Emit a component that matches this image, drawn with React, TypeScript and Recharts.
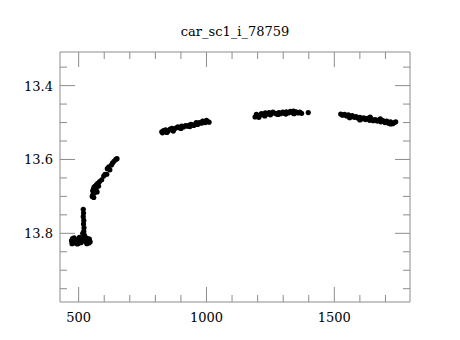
import { ScatterChart, Scatter, XAxis, YAxis, ReferenceLine } from 'recharts'

// light curve: [time, magnitude]
const spikeGroup: [number, number][] = [
  [472, 13.82], [478, 13.824], [485, 13.826], [492, 13.82], [498, 13.818], [505, 13.823],
  [512, 13.815], [520, 13.81], [528, 13.812], [535, 13.82], [540, 13.826], [545, 13.823],
  [476, 13.814], [488, 13.817], [500, 13.827], [510, 13.825], [532, 13.828], [538, 13.815],
  [474, 13.828], [482, 13.812], [495, 13.829], [503, 13.811], [527, 13.822], [542, 13.816],
  [518, 13.735], [519, 13.745], [518, 13.755], [520, 13.765], [519, 13.775], [521, 13.785],
  [520, 13.795], [522, 13.805], [516, 13.8], [524, 13.808],
]

const riseGroup: [number, number][] = [
  [553, 13.7], [556, 13.695], [555, 13.685], [558, 13.68], [560, 13.675], [562, 13.69],
  [565, 13.672], [568, 13.68], [570, 13.668], [575, 13.665], [578, 13.672], [572, 13.688],
  [559, 13.703], [582, 13.66], [590, 13.655], [598, 13.645], [603, 13.64], [610, 13.64],
  [612, 13.625], [618, 13.62], [622, 13.628], [628, 13.615], [632, 13.61], [638, 13.605],
  [645, 13.6], [650, 13.598],
]

const secondGroup: [number, number][] = [
  [825, 13.525], [832, 13.522], [840, 13.52], [850, 13.523], [858, 13.518], [865, 13.516],
  [872, 13.519], [880, 13.515], [888, 13.512], [895, 13.514], [903, 13.51], [910, 13.512],
  [918, 13.508], [925, 13.51], [933, 13.507], [940, 13.505], [950, 13.508], [958, 13.503],
  [965, 13.505], [972, 13.5], [980, 13.502], [988, 13.498], [995, 13.5], [1003, 13.497],
  [1010, 13.499], [828, 13.528], [845, 13.527], [870, 13.523], [900, 13.516], [935, 13.511],
  [960, 13.5], [985, 13.496], [1000, 13.494],
]

const thirdGroup: [number, number][] = [
  [1190, 13.485], [1195, 13.478], [1200, 13.482], [1208, 13.48], [1215, 13.476], [1222, 13.479],
  [1230, 13.474], [1238, 13.477], [1245, 13.473], [1252, 13.476], [1260, 13.472], [1268, 13.475],
  [1275, 13.477], [1283, 13.473], [1290, 13.476], [1298, 13.472], [1305, 13.475], [1312, 13.471],
  [1320, 13.474], [1328, 13.47], [1335, 13.473], [1342, 13.476], [1350, 13.471], [1358, 13.474],
  [1365, 13.472], [1372, 13.475], [1398, 13.473], [1205, 13.486], [1228, 13.482], [1250, 13.479],
  [1280, 13.478], [1310, 13.477], [1340, 13.469],
]

const fourthGroup: [number, number][] = [
  [1525, 13.477], [1532, 13.48], [1540, 13.478], [1548, 13.482], [1555, 13.479], [1562, 13.483],
  [1570, 13.481], [1578, 13.486], [1585, 13.484], [1592, 13.488], [1600, 13.486], [1608, 13.49],
  [1615, 13.487], [1622, 13.492], [1630, 13.489], [1638, 13.494], [1645, 13.49], [1652, 13.495],
  [1660, 13.492], [1668, 13.496], [1675, 13.493], [1682, 13.498], [1690, 13.495], [1698, 13.5],
  [1705, 13.496], [1712, 13.502], [1720, 13.498], [1728, 13.503], [1735, 13.5], [1740, 13.498],
  [1560, 13.487], [1600, 13.493], [1640, 13.485], [1680, 13.49], [1720, 13.504],
]

const xDomain = [427, 1796]
const yDomain = [13.309, 13.986]
const xMajor = [500, 1000, 1500]
const xTicks = [500, 600, 700, 800, 900, 1000, 1100, 1200, 1300, 1400, 1500, 1600, 1700]
const yMajor = [13.4, 13.6, 13.8]
const yTicks = [13.35, 13.4, 13.45, 13.5, 13.55, 13.6, 13.65, 13.7, 13.75, 13.8, 13.85, 13.9, 13.95]

const points = [...spikeGroup, ...riseGroup, ...secondGroup, ...thirdGroup, ...fourthGroup].map(
  ([t, mag]) => ({ t, mag })
)

const W = 460
const H = 340
const margin = { top: 52, right: 50, bottom: 38, left: 60 }
const box = { left: margin.left, right: W - margin.right, top: margin.top, bottom: H - margin.bottom }

const font = 'DejaVu Serif'
const frame = '#8c8c8c'
const MAJOR = 15
const MINOR = 7

const isMajor = (list: number[], v: number) => list.some((m) => Math.abs(m - v) < 1e-6)

// ticks point inwards on all four sides, like the original plot
const BottomTick = (props: any) => {
  const x = props.payload.coordinate
  const v = props.payload.value
  const major = isMajor(xMajor, v)
  const len = major ? MAJOR : MINOR
  return (
    <g>
      <line x1={x} x2={x} y1={box.bottom} y2={box.bottom - len} stroke={frame} />
      <line x1={x} x2={x} y1={box.top} y2={box.top + len} stroke={frame} />
      {major && (
        <text x={x} y={box.bottom + 20} textAnchor="middle" fontFamily={font} fontSize={13} fill="#000">
          {v}
        </text>
      )}
    </g>
  )
}

const LeftTick = (props: any) => {
  const y = props.payload.coordinate
  const v = props.payload.value
  const major = isMajor(yMajor, v)
  const len = major ? MAJOR : MINOR
  return (
    <g>
      <line x1={box.left} x2={box.left + len} y1={y} y2={y} stroke={frame} />
      <line x1={box.right} x2={box.right - len} y1={y} y2={y} stroke={frame} />
      {major && (
        <text x={box.left - 7} y={y + 5} textAnchor="end" fontFamily={font} fontSize={13} fill="#000">
          {Number(v).toFixed(1)}
        </text>
      )}
    </g>
  )
}

const Dot = (props: any) => <circle cx={props.cx} cy={props.cy} r={2.6} fill="#000" />

export default function App() {
  return (
    <div style={{ position: 'absolute', left: 0, top: 0, width: W, height: H, background: '#fff' }}>
      <div
        style={{
          position: 'absolute',
          top: 24,
          left: box.left,
          width: box.right - box.left,
          textAlign: 'center',
          fontFamily: font,
          fontSize: 13,
          color: '#000',
        }}
      >
        car_sc1_i_78759
      </div>
      <ScatterChart width={W} height={H} margin={{ top: margin.top, right: margin.right, bottom: 0, left: 0 }}>
        <XAxis type="number" dataKey="t" domain={xDomain} allowDataOverflow ticks={xTicks} interval={0}
          height={margin.bottom} tickSize={0} tickMargin={0} tickLine={false} stroke={frame} tick={BottomTick} />
        <YAxis type="number" dataKey="mag" domain={yDomain} reversed allowDataOverflow ticks={yTicks} interval={0}
          width={margin.left} tickSize={0} tickMargin={0} tickLine={false} stroke={frame} tick={LeftTick} />
        <ReferenceLine x={xDomain[1]} stroke={frame} />
        <ReferenceLine y={yDomain[0]} stroke={frame} />
        <Scatter data={points} shape={Dot} isAnimationActive={false} />
      </ScatterChart>
    </div>
  )
}
